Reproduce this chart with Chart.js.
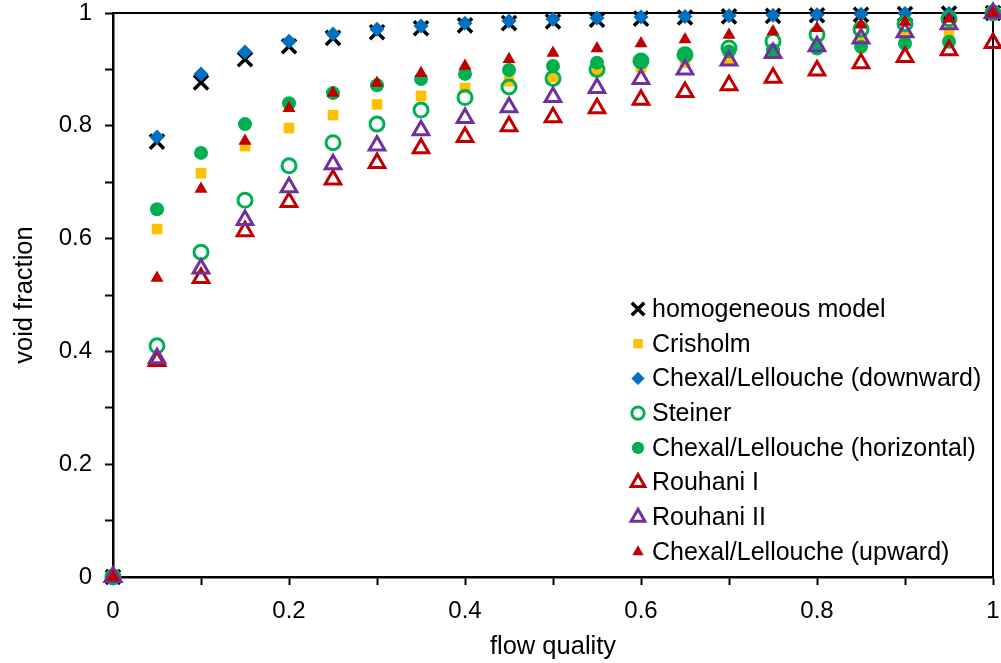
<!DOCTYPE html>
<html lang="en">

<head>
    <meta charset="UTF-8">
    <title>Void fraction vs flow quality</title>
    <script src="https://cdn.jsdelivr.net/npm/chart.js"></script>
    <style>
        html, body { margin: 0; padding: 0; background: #fff; }
        #wrap { width: 1001px; height: 663px; }
    </style>
</head>

<body>
    <div id="wrap">
        <canvas id="canvasVoid" width="1001" height="663"></canvas>
    </div>
</body>

<script>
    // flow quality (x)
    const quality = [0, 0.05, 0.1, 0.15, 0.2, 0.25, 0.3, 0.35, 0.4, 0.45, 0.5,
        0.55, 0.6, 0.65, 0.7, 0.75, 0.8, 0.85, 0.9, 0.95, 1];

    // void fraction per model
    const homogeneous = [0, 0.772, 0.877, 0.918, 0.941, 0.956, 0.966, 0.973, 0.978, 0.982, 0.985,
        0.988, 0.990, 0.992, 0.994, 0.995, 0.996, 0.997, 0.998, 0.999, 1];
    const crisholm = [0, 0.617, 0.716, 0.764, 0.796, 0.819, 0.838, 0.853, 0.867, 0.879, 0.886,
        0.897, 0.904, 0.912, 0.918, 0.930, 0.940, 0.955, 0.960, 0.967, 1];
    const downward = [0, 0.780, 0.892, 0.931, 0.950, 0.963, 0.971, 0.977, 0.982, 0.986, 0.989,
        0.991, 0.993, 0.994, 0.995, 0.996, 0.997, 0.998, 0.999, 0.999, 1];
    const steiner = [0, 0.410, 0.576, 0.668, 0.729, 0.770, 0.803, 0.828, 0.850, 0.869, 0.884,
        0.900, 0.915, 0.926, 0.938, 0.950, 0.962, 0.971, 0.981, 0.990, 1];
    const horizontal = [0, 0.652, 0.752, 0.803, 0.840, 0.858, 0.872, 0.883, 0.892, 0.899, 0.906,
        0.912, 0.915, 0.927, 0.932, 0.934, 0.937, 0.940, 0.946, 0.949, 1];
    const rouhani1 = [0, 0.383, 0.530, 0.613, 0.665, 0.705, 0.734, 0.760, 0.780, 0.799, 0.815,
        0.831, 0.846, 0.860, 0.872, 0.885, 0.898, 0.911, 0.922, 0.934, 0.947];
    const rouhani2 = [0, 0.388, 0.547, 0.633, 0.691, 0.732, 0.765, 0.792, 0.814, 0.833, 0.851,
        0.867, 0.883, 0.900, 0.916, 0.929, 0.941, 0.955, 0.966, 0.980, 1];
    const upward = [0, 0.530, 0.688, 0.773, 0.831, 0.858, 0.876, 0.893, 0.906, 0.918, 0.929,
        0.937, 0.946, 0.953, 0.961, 0.967, 0.973, 0.979, 0.984, 0.990, 1];

    const nomes = ['homogeneous model', 'Crisholm', 'Chexal/Lellouche (downward)', 'Steiner',
        'Chexal/Lellouche (horizontal)', 'Rouhani I', 'Rouhani II', 'Chexal/Lellouche (upward)'];

    const FONTE = "'Liberation Sans', Arial, Helvetica, sans-serif";
    Chart.defaults.font.family = FONTE;
    Chart.defaults.font.size = 24;
    Chart.defaults.color = '#000';

    function pares(ys) {
        return quality.map((x, i) => ({ x: x, y: ys[i] }));
    }

    // estilo de cada série: [dados, forma, raio, cor borda, cor fundo, espessura]
    const estilos = [
        [homogeneous, 'crossRot', 10, '#000000', '#000000', 3.5],
        [crisholm, 'rect', 7.5, '#FFC000', '#FFC000', 0],
        [downward, 'rectRot', 7.5, '#0070C0', '#0070C0', 0],
        [steiner, 'circle', 7, '#00B050', 'rgba(0,0,0,0)', 3],
        [horizontal, 'circle', 7, '#00B050', '#00B050', 0],
        [rouhani1, 'triangle', 9, '#C00000', 'rgba(0,0,0,0)', 3],
        [rouhani2, 'triangle', 9, '#7030A0', 'rgba(0,0,0,0)', 3],
        [upward, 'triangle', 7.5, '#C00000', '#C00000', 0]
    ];

    const datasets = estilos.map((e, i) => ({
        label: nomes[i],
        data: pares(e[0]),
        pointStyle: e[1],
        pointRadius: e[2],
        pointHoverRadius: e[2],
        borderColor: e[3],
        backgroundColor: e[4],
        pointBorderColor: e[3],
        pointBackgroundColor: e[4],
        pointBorderWidth: e[5],
        showLine: false,
        clip: false,
        order: estilos.length - i   // later series on top, like the original
    }));

    // moldura de cima e da direita
    const moldura = {
        id: 'moldura',
        beforeDatasetsDraw(chart) {
            const { ctx, chartArea: a } = chart;
            ctx.save();
            ctx.strokeStyle = '#000';
            ctx.lineWidth = 2;
            ctx.beginPath();
            ctx.moveTo(a.left, a.top);
            ctx.lineTo(a.right, a.top);
            ctx.lineTo(a.right, a.bottom);
            ctx.stroke();
            ctx.restore();
        }
    };

    // legenda dentro da área do gráfico
    const legenda = {
        id: 'legenda',
        afterDraw(chart) {
            const ctx = chart.ctx;
            const x0 = 638, y0 = 309, passo = 34.7;
            ctx.save();
            estilos.forEach((e, i) => {
                const y = y0 + passo * i;
                ctx.fillStyle = e[4];
                ctx.strokeStyle = e[3];
                ctx.lineWidth = e[5];
                Chart.helpers.drawPoint(ctx, {
                    pointStyle: e[1], radius: e[2] * 0.88, borderWidth: e[5], rotation: 0
                }, x0, y);
                ctx.fillStyle = '#000';
                ctx.font = '25px ' + FONTE;
                ctx.textBaseline = 'middle';
                ctx.textAlign = 'left';
                ctx.fillText(nomes[i], 652, y + 1);
            });
            ctx.restore();
        }
    };

    function rotulo(value) {
        const v = Math.round(value * 10);
        return v % 2 ? '' : String(v / 10);
    }

    new Chart(document.getElementById('canvasVoid'), {
        type: 'scatter',
        data: { datasets: datasets },
        options: {
            responsive: false,
            animation: false,
            events: [],
            layout: { autoPadding: false, padding: { left: 0, right: 8, top: 13, bottom: 0 } },
            plugins: {
                legend: { display: false },
                tooltip: { enabled: false }
            },
            scales: {
                x: {
                    type: 'linear',
                    min: 0,
                    max: 1,
                    afterFit: s => { s.height = 86; },
                    border: { display: true, color: '#000', width: 2.5 },
                    grid: { drawOnChartArea: false, drawTicks: true, tickLength: 8, tickColor: '#000', tickWidth: 2 },
                    ticks: { stepSize: 0.1, callback: rotulo, maxRotation: 0, autoSkip: false, padding: 0, color: '#000', font: { lineHeight: '52px' } },
                    title: { display: true, text: 'flow quality', color: '#000', font: { size: 25.5 }, padding: { top: 0, bottom: 1 } }
                },
                y: {
                    type: 'linear',
                    min: 0,
                    max: 1,
                    afterFit: s => { s.width = 113; },
                    border: { display: true, color: '#000', width: 2.5 },
                    grid: { drawOnChartArea: false, drawTicks: true, tickLength: 8, tickColor: '#000', tickWidth: 2 },
                    ticks: { stepSize: 0.1, callback: rotulo, autoSkip: false, padding: 13, color: '#000', font: { lineHeight: 0.001 } },
                    title: { display: true, text: 'void fraction', color: '#000', font: { size: 25.5 }, padding: { top: 10, bottom: 0 } }
                }
            }
        },
        plugins: [moldura, legenda]
    });
</script>

</html>
